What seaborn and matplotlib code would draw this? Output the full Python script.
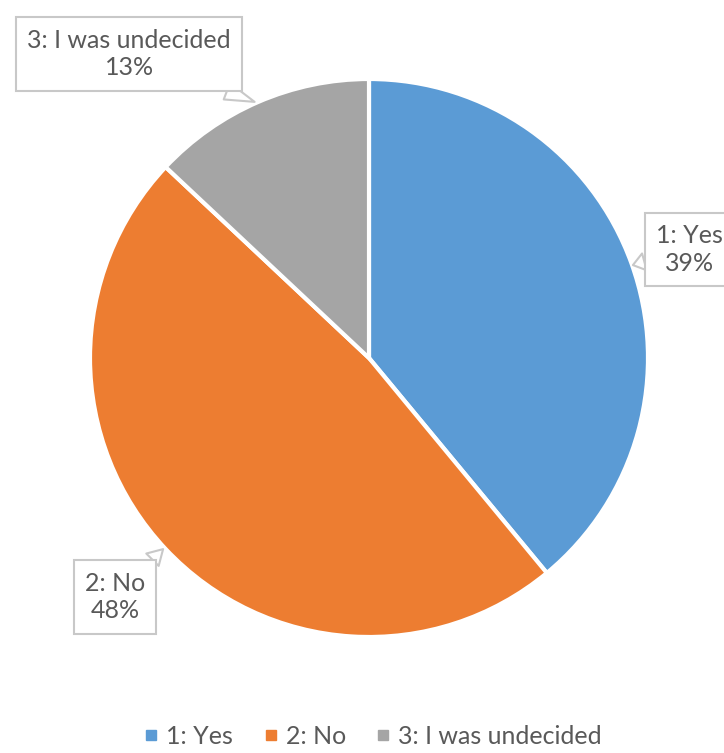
import matplotlib.pyplot as plt
import seaborn as sns
from matplotlib.lines import Line2D

# --- data ---
labels = ['1: Yes', '2: No', '3: I was undecided']
shares = [39, 48, 13]
colors = ['#5B9BD5', '#ED7D31', '#A5A5A5']

# callout text positions (data units, pie radius = 1) and pointer tips
label_pos = [(1.15, 0.39), (-0.91, -0.857), (-0.86, 1.09)]
tip_pos = [(0.946, 0.333), (-0.738, -0.685), (-0.41, 0.918)]

sns.set_theme(style="white")
plt.rcParams['font.family'] = ['Lato', 'DejaVu Sans']
text_color = '#595959'

fig = plt.figure(figsize=(7.24, 7.53), dpi=100)
ax = fig.add_axes([90 / 724, (753 - 637) / 753, 558 / 724, 558 / 753])

wedges, _ = ax.pie(shares, colors=colors, startangle=90, counterclock=False,
                   wedgeprops=dict(edgecolor='white', linewidth=3))
ax.set_xlim(-1, 1)
ax.set_ylim(-1, 1)
ax.set_aspect('equal')
ax.axis('off')

# --- callouts ---
for lab, val, (tx, ty), (px, py) in zip(labels, shares, label_pos, tip_pos):
    ax.annotate(f"{lab}\n{val}%", xy=(px, py), xytext=(tx, ty),
                ha='center', va='center', fontsize=18, color=text_color,
                linespacing=1.25, annotation_clip=False,
                bbox=dict(boxstyle='square,pad=0.45', fc='white', ec='#C8C8C8', lw=1.5),
                arrowprops=dict(arrowstyle='wedge,tail_width=0.7,shrink_factor=0.5',
                                fc='white', ec='#C8C8C8', lw=1.5, shrinkA=0, shrinkB=0))

# --- legend ---
handles = [Line2D([], [], marker='s', linestyle='', color=c, markersize=7) for c in colors]
fig.legend(handles, labels, loc='lower center', bbox_to_anchor=(0.5166, -0.023),
           ncol=3, frameon=False, fontsize=18, handlelength=0.4, handletextpad=0.4,
           columnspacing=1.3, labelcolor=text_color)

fig.savefig('out.png', dpi=100)
